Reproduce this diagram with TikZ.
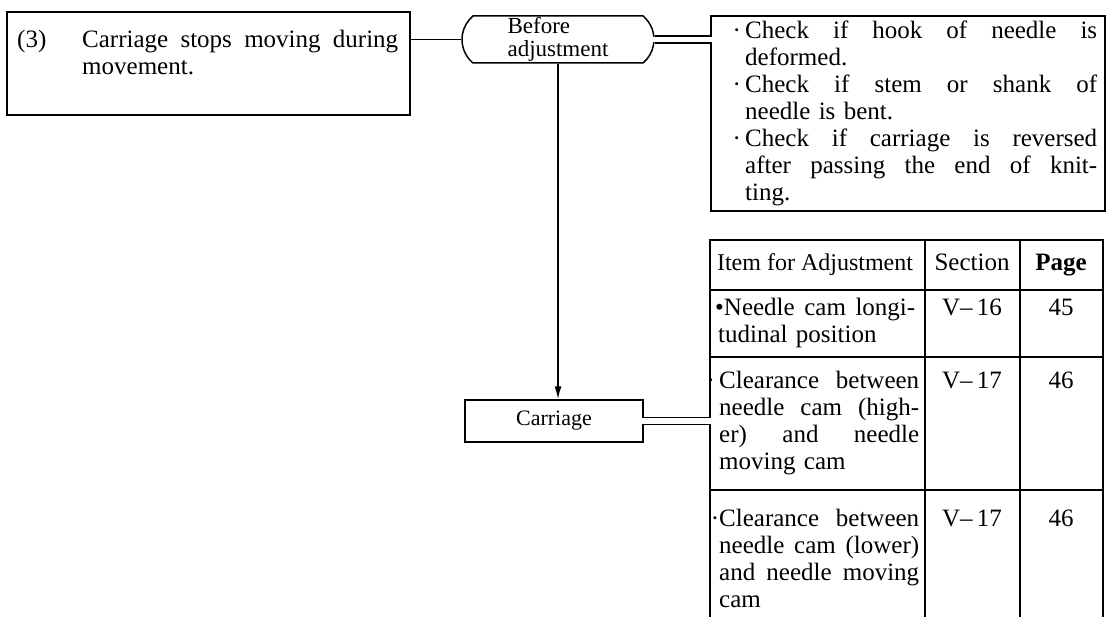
\documentclass[tikz,border=0pt]{standalone}
\usepackage{fontspec}
\setmainfont{Liberation Serif}
\usetikzlibrary{arrows.meta,shapes.misc}

\newcommand{\spread}[2]{\leavevmode\hbox to #1{\spaceskip=.3em plus 1fil\relax #2}}
\newcommand{\hangdot}[1]{\leavevmode\llap{#1}}

\begin{document}
\begin{tikzpicture}[x=1pt,y=-1pt,
        frame/.style={draw=black, line width=1.5pt},
        box/.style={frame, rectangle, inner sep=0pt},
        beforeBox/.style={frame, rounded rectangle, rounded rectangle arc length=100, minimum width=192pt, minimum height=47pt, inner sep=0pt, align=left, font=\fontsize{23}{22.5}\selectfont},
        link/.style={line width=1.5pt, draw=black},
        arrowLink/.style={link, -{Latex[length=13pt,width=7pt]}},
        bodyText/.style={inner sep=0pt, anchor=base west, align=left, font=\fontsize{25}{27}\selectfont},
        cellText/.style={bodyText, text width=200pt},
        numText/.style={inner sep=0pt, anchor=base, font=\fontsize{25}{27}\selectfont},
        gap/.style={fill=white}
      ]
      \fill[white] (0,0) rectangle (1107,617);
      \useasboundingbox (0,0) rectangle (1107,617);

      % trouble and first check
      \node[box, minimum width=403pt, minimum height=103pt] (prob) at (208.5,63.5) {};
      \node[bodyText, text width=50pt] (probNum) at (17,48) {(3)};
      \node[bodyText, text width=316pt] (probText) at (82,48) {\spread{316pt}{Carriage stops moving during}\\movement.};

      \node[beforeBox] (before) at (558,39.5) {Before\\adjustment};

      \node[box, minimum width=394pt, minimum height=195pt] (check) at (908,113.5) {};
      \node[bodyText, text width=352pt] (checkText) at (745,39) {%
        \hangdot{·\,}\spread{352pt}{Check if hook of needle is}\\%
        deformed.\\%
        \hangdot{·\,}\spread{352pt}{Check if stem or shank of}\\%
        needle is bent.\\%
        \hangdot{·\,}\spread{352pt}{Check if carriage is reversed}\\%
        \spread{352pt}{after passing the end of knit-}\\%
        ting.};

      \node[box, minimum width=178pt, minimum height=42pt, font=\fontsize{22}{24}\selectfont] (carriage) at (554,421) {Carriage};

      % adjustment table
      \draw[frame] (710,617) |- (1103,240) -- (1103,617);
      \foreach \y in {290,357,490} \draw[frame] (710,\y) -- (1103,\y);
      \foreach \x in {925,1020} \draw[frame] (\x,240) -- (\x,617);

      \node[numText, font=\fontsize{24}{27}\selectfont] (tabItem) at (815,271) {Item for Adjustment};
      \node[numText] (tabSection) at (972,271) {Section};
      \node[numText, font=\fontsize{25}{27}\selectfont\bfseries] (tabPage) at (1061,271) {Page};

      \node[cellText] (itemA) at (715,316) {\spread{200pt}{•Needle cam longi-}\\\hspace*{3pt}tudinal position};
      \node[numText] (secA) at (972,316) {V–\,16};
      \node[numText] (pageA) at (1061,316) {45};

      \node[cellText] (itemB) at (719,388) {%
        \hangdot{·\,}\spread{200pt}{Clearance between}\\%
        \spread{200pt}{needle cam (high-}\\%
        \spread{200pt}{er) and needle}\\%
        moving cam};
      \node[numText] (secB) at (972,388) {V–\,17};
      \node[numText] (pageB) at (1061,388) {46};

      \node[cellText] (itemC) at (719,526) {%
        \hangdot{·}\spread{200pt}{Clearance between}\\%
        \spread{200pt}{needle cam (lower)}\\%
        \spread{200pt}{and needle moving}\\%
        cam};
      \node[numText] (secC) at (972,526) {V–\,17};
      \node[numText] (pageC) at (1061,526) {46};

      \coordinate (checkEdge) at (check.west |- before.east);
      \coordinate (tabEdge) at (710,421);

      % connectors
      \draw[link] (prob.east |- before.west) -- (before.west);
      \draw[arrowLink] (before.south) -- (before.south |- carriage.north);

      \fill[gap] ([xshift=-6pt,yshift=2.7pt]before.east) rectangle ([xshift=3pt,yshift=-2.7pt]checkEdge);
      \draw[link] ([yshift=3.5pt]before.east) -- ([yshift=3.5pt]checkEdge);
      \draw[link] ([yshift=-3.5pt]before.east) -- ([yshift=-3.5pt]checkEdge);

      \fill[gap] ([xshift=-3pt,yshift=2.7pt]carriage.east) rectangle ([xshift=3pt,yshift=-2.7pt]tabEdge);
      \draw[link] ([yshift=3.5pt]carriage.east) -- ([yshift=3.5pt]tabEdge);
      \draw[link] ([yshift=-3.5pt]carriage.east) -- ([yshift=-3.5pt]tabEdge);
    \end{tikzpicture}
\end{document}
